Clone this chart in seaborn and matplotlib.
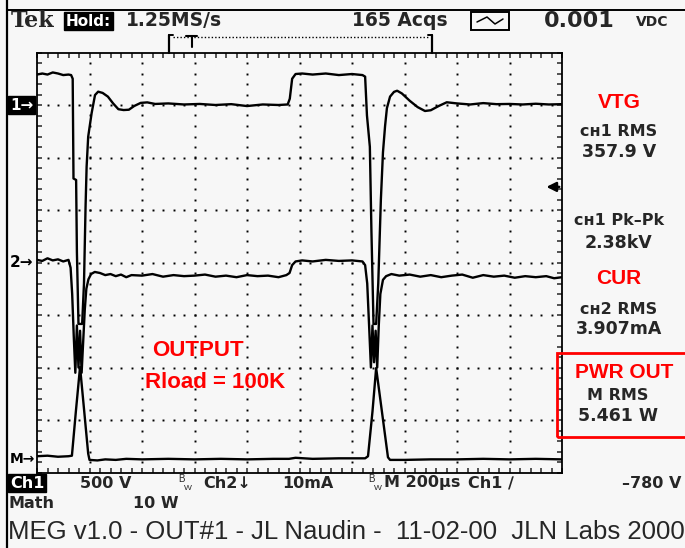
import numpy as np
import pandas as pd
import matplotlib
matplotlib.use('Agg')
import matplotlib.pyplot as plt
import matplotlib.transforms as mtransforms
from matplotlib.lines import Line2D
from matplotlib.patches import Rectangle
from matplotlib.ticker import MultipleLocator
import seaborn as sns

# Ch1 : tension (V)
ch1_t = [0, 20, 40, 60, 80, 100, 120, 130, 136, 139,
         149, 152, 158, 172, 179, 185, 189, 195, 208, 221,
         233, 250, 270, 290, 310, 330, 350, 370, 395, 420,
         450, 500, 560, 620, 680, 740, 800, 860, 920, 955,
         963, 972, 985, 1010, 1050, 1100, 1150, 1200, 1240, 1250,
         1257, 1268, 1274, 1282, 1292, 1300, 1310, 1318, 1326, 1333,
         1345, 1360, 1372, 1390, 1420, 1450, 1478, 1500, 1530, 1561,
         1600, 1650, 1700, 1750, 1800, 1850, 1900, 1950, 2000]
ch1_v = [290, 300, 290, 310, 300, 285, 290, 285, 250, -700,
         -714, -1400, -2085, -2085, -1700, -968, -588, -302, -79, 95,
         127, 115, 80, 15, -40, -48, -45, -10, 20, 25,
         10, 15, 5, 10, 0, 8, -10, 5, 0, 5,
         60, 250, 295, 300, 290, 300, 285, 295, 285, 270,
         -100, -398, -1200, -2085, -2085, -1700, -900, -450, -200, -30,
         80, 125, 136, 110, 40, -20, -57, -50, -10, 26,
         15, 5, 18, 8, 10, 5, 12, 5, 8]

# Ch2 : courant (mA)
ch2_t = [0, 20, 40, 60, 80, 100, 120, 128, 134, 140,
         146, 152, 158, 164, 170, 176, 182, 188, 196, 206,
         220, 240, 260, 280, 300, 320, 340, 360, 400, 440,
         480, 520, 560, 600, 640, 680, 720, 760, 800, 840,
         880, 920, 950, 962, 972, 985, 1010, 1050, 1100, 1150,
         1200, 1240, 1250, 1258, 1266, 1272, 1278, 1284, 1290, 1296,
         1302, 1308, 1318, 1330, 1350, 1380, 1420, 1460, 1500, 1540,
         1580, 1620, 1660, 1700, 1740, 1780, 1820, 1860, 1900, 1940,
         1970, 2000]
ch2_ma = [0.5, 0.3, 0.8, 0.4, 0.6, 0.2, 0.5, -1, -6, -14,
          -21, -12, -20, -13, -21, -15, -9, -5, -3.2, -2.2,
          -1.8, -2.0, -2.4, -2.2, -2.6, -2.3, -2.8, -2.4, -2.5, -2.2,
          -2.7, -2.4, -2.6, -2.5, -2.3, -2.7, -2.5, -2.8, -2.4, -2.6,
          -2.5, -2.8, -2.4, -2.0, -0.5, 0.2, 0.4, 0.2, 0.5, 0.3,
          0.4, 0.2, -0.5, -4, -13, -20, -12, -19, -13, -20,
          -12, -6, -3.3, -2.6, -2.2, -2.5, -2.3, -2.7, -2.4, -2.8,
          -2.5, -2.3, -2.9, -2.4, -2.7, -2.5, -2.9, -2.6, -2.8, -2.6,
          -3.0, -2.8]

# Math : puissance (W)
math_t = [0, 40, 80, 120, 133, 148, 164, 180, 195, 200,
          230, 260, 300, 340, 400, 500, 600, 700, 800, 900,
          960, 985, 1050, 1150, 1250, 1261, 1278, 1292, 1314, 1337,
          1345, 1400, 1500, 1600, 1700, 1800, 1900, 2000]
math_w = [0.5, 0.6, 0.4, 0.5, 0.6, 9, 17.5, 9, 1.0, -0.2,
          -0.3, -0.1, -0.2, 0.0, -0.1, 0.0, -0.1, 0.0, -0.1, 0.0,
          0.0, 0.2, 0.0, 0.1, 0.1, 0.5, 9, 17.3, 9, 0.3,
          -0.2, -0.2, -0.1, -0.1, 0.0, -0.1, 0.0, -0.1]

# réglages de l'oscillo
time_scale = 200                          # µs / div
ch1_scale, ch2_scale, math_scale = 500, 10, 10
ch1_pos, ch2_pos, math_pos = 7.0, 4.0, 0.26   # niveaux des marqueurs (div)
trig_level = -780                         # V

# mesures affichées à droite
meas_titles = ['VTG', 'CUR', 'PWR OUT']
meas_labels = ['ᴄʜ1 RMS', 'ᴄʜ1 Pk\u2013Pk', 'ᴄʜ2 RMS', 'M RMS']
meas_values = ['357.9 V', '2.38kV', '3.907mA', '5.461 W']

header = ['Tek', 'Hold:', '1.25MS/s', '165 Acqs', '0.001', 'VDC']
footer = 'MEG v1.0 - OUT#1 - JL Naudin -  11-02-00  JLN Labs 2000'

sns.set_style('white')
plt.rcParams['font.family'] = ['Liberation Sans', 'DejaVu Sans']

W, H = 685, 548
BG = '#f7f7f7'
RED = '#ff0000'
SCOPE = 'DejaVu Sans'   # police "écran" large et grasse


def fx(x):
    return x / W


def fy(y):
    return 1 - y / H


fig = plt.figure(figsize=(W / 100, H / 100), dpi=100, facecolor=BG)
ax = fig.add_axes([fx(37), fy(472.5), 525 / W, 420 / H])
ax.set_facecolor(BG)

# traces converties en divisions
df1 = pd.DataFrame({'t': ch1_t, 'div': ch1_pos + np.array(ch1_v) / ch1_scale})
df2 = pd.DataFrame({'t': ch2_t, 'div': ch2_pos + np.array(ch2_ma) / ch2_scale})
dfm = pd.DataFrame({'t': math_t, 'div': math_pos + np.array(math_w) / math_scale})
for d in (dfm, df2, df1):
    sns.lineplot(data=d, x='t', y='div', ax=ax, color='black', lw=1.7,
                 estimator=None, sort=False)

ax.set_xlim(0, 10 * time_scale)
ax.set_ylim(0, 8)
ax.set_xlabel('')
ax.set_ylabel('')
ax.xaxis.set_major_locator(MultipleLocator(time_scale))
ax.xaxis.set_minor_locator(MultipleLocator(time_scale / 5))
ax.yaxis.set_major_locator(MultipleLocator(1))
ax.yaxis.set_minor_locator(MultipleLocator(0.2))
ax.tick_params(which='both', direction='in', length=3.5, width=1.1,
               top=True, right=True, bottom=True, left=True,
               labelbottom=False, labelleft=False)
for s in ax.spines.values():
    s.set_linewidth(1.3)
    s.set_color('black')

# graticule en pointillés
gy = np.arange(0.2, 8, 0.2)
gx = np.arange(1, 10) * time_scale
ax.plot(np.repeat(gx, len(gy)), np.tile(gy, len(gx)), ls='none', marker='s',
        ms=1.4, mew=0, color='black')
hx = np.arange(time_scale / 5, 10 * time_scale, time_scale / 5)
hy = np.arange(1, 8)
ax.plot(np.tile(hx, len(hy)), np.repeat(hy, len(hx)), ls='none', marker='s',
        ms=1.4, mew=0, color='black')

# niveau de déclenchement
trig_div = ch1_pos + trig_level / ch1_scale
ax.annotate('', xy=(1930, trig_div), xytext=(2000, trig_div),
            arrowprops=dict(arrowstyle='-|>', color='black', lw=1.8, mutation_scale=14))

# texte rouge dans l'écran
fig.text(fx(198), fy(351), 'OUTPUT', color=RED, weight='bold', size=16,
         ha='center', va='center')
fig.text(fx(215), fy(382), 'Rload = 100K', color=RED, weight='bold', size=16,
         ha='center', va='center')

# marqueurs des voies
mk = mtransforms.blended_transform_factory(fig.transFigure, ax.transData)
ax.text(fx(10), ch1_pos, '1\u2192', transform=mk, color='white', weight='bold',
        size=11, va='center', ha='left', family=SCOPE,
        bbox=dict(boxstyle='square,pad=0.12', fc='black', ec='black'))
ax.text(fx(10), ch2_pos, '2\u2192', transform=mk, color='black', weight='bold',
        size=11, va='center', ha='left', family=SCOPE)
ax.text(fx(10), math_pos, 'M\u2192', transform=mk, color='black', weight='bold',
        size=10, va='center', ha='left', family=SCOPE)

# bords de l'écran
fig.add_artist(Line2D([fx(7), fx(7)], [0, 1], color='black', lw=1.6))
fig.add_artist(Line2D([fx(7), 1], [fy(10), fy(10)], color='black', lw=1.4))

# en-tête
hy_ = fy(21)
fig.text(fx(11), hy_, header[0], weight='bold', size=16, va='center',
         family='DejaVu Serif')
fig.text(fx(66), hy_, header[1], weight='bold', size=11, va='center', color='white',
         family=SCOPE, bbox=dict(boxstyle='square,pad=0.12', fc='black', ec='black'))
fig.text(fx(126), hy_, header[2], weight='bold', size=13.5, va='center', family=SCOPE)
fig.text(fx(352), hy_, header[3], weight='bold', size=13.5, va='center', family=SCOPE)
fig.add_artist(Rectangle((fx(471), fy(30)), fx(38), 18 / H, fill=False,
                         ec='black', lw=1.4))
fig.add_artist(Line2D([fx(477), fx(487), fx(495), fx(503)],
                      [fy(22), fy(17), fy(24), fy(19)], color='black', lw=1.1))
fig.text(fx(544), hy_, header[4], weight='bold', size=16, va='center', family=SCOPE)
fig.text(fx(636), fy(22), header[5], weight='bold', size=10, va='center', family=SCOPE)

# repère de position du déclenchement
fig.add_artist(Line2D([fx(169), fx(169)], [fy(35), fy(53)], color='black', lw=1.6))
fig.add_artist(Line2D([fx(169), fx(173)], [fy(35), fy(35)], color='black', lw=1.4))
fig.add_artist(Line2D([fx(432), fx(432)], [fy(35), fy(53)], color='black', lw=1.6))
fig.add_artist(Line2D([fx(428), fx(432)], [fy(35), fy(35)], color='black', lw=1.4))
fig.add_artist(Line2D([fx(173), fx(428)], [fy(37), fy(37)], color='black', lw=1,
                      ls=(0, (1, 1.5))))
fig.add_artist(Line2D([fx(186), fx(197)], [fy(36), fy(36)], color='black', lw=1.5))
fig.add_artist(Line2D([fx(191.5), fx(191.5)], [fy(36), fy(47)], color='black', lw=1.5))

# mesures à droite
cx = fx(619)
fig.text(cx, fy(102), meas_titles[0], color=RED, weight='bold', size=15, ha='center', va='center')
fig.text(cx, fy(131), meas_labels[0], weight='bold', size=11.5, ha='center', va='center', family=SCOPE)
fig.text(cx, fy(152), meas_values[0], weight='bold', size=12.5, ha='center', va='center', family=SCOPE)
fig.text(cx, fy(220), meas_labels[1], weight='bold', size=11.5, ha='center', va='center', family=SCOPE)
fig.text(cx, fy(243), meas_values[1], weight='bold', size=12.5, ha='center', va='center', family=SCOPE)
fig.text(cx, fy(279), meas_titles[1], color=RED, weight='bold', size=15, ha='center', va='center')
fig.text(cx, fy(309), meas_labels[2], weight='bold', size=11.5, ha='center', va='center', family=SCOPE)
fig.text(cx, fy(329), meas_values[2], weight='bold', size=12.5, ha='center', va='center', family=SCOPE)
fig.add_artist(Rectangle((fx(557), fy(437)), fx(140), 84 / H, fill=False,
                         ec=RED, lw=2))
fig.text(fx(624), fy(372), meas_titles[2], color=RED, weight='bold', size=15, ha='center', va='center')
fig.text(fx(618), fy(395), meas_labels[3], weight='bold', size=11.5, ha='center', va='center', family=SCOPE)
fig.text(fx(618), fy(416), meas_values[3], weight='bold', size=12.5, ha='center', va='center', family=SCOPE)

# ligne d'état en bas
r1 = fy(483)
fig.text(fx(10), r1, 'Ch1', weight='bold', size=11.5, va='center', color='white',
         family=SCOPE, bbox=dict(boxstyle='square,pad=0.1', fc='black', ec='black'))
fig.text(fx(80), r1, f'{ch1_scale} V', weight='bold', size=11.5, va='center', family=SCOPE)
fig.text(fx(178), fy(479), 'B', size=7, va='center')
fig.text(fx(184), fy(488), 'W', size=6, va='center')
fig.text(fx(203), r1, 'Ch2\u2193', weight='bold', size=11.5, va='center', family=SCOPE)
fig.text(fx(282), r1, f'{ch2_scale}mA', weight='bold', size=11.5, va='center', family=SCOPE)
fig.text(fx(368), fy(479), 'B', size=7, va='center')
fig.text(fx(374), fy(488), 'W', size=6, va='center')
fig.text(fx(384), r1, f'M {time_scale}µs', weight='bold', size=11.5, va='center', family=SCOPE)
fig.text(fx(468), r1, 'Ch1 \u2215', weight='bold', size=11.5, va='center', family=SCOPE)
fig.text(fx(681), r1, f'{trig_level} V'.replace('-', '\u2013'), weight='bold', size=11.5,
         va='center', ha='right', family=SCOPE)
fig.text(fx(9), fy(504), 'Math', weight='bold', size=11.5, va='center', family=SCOPE)
fig.text(fx(133), fy(504), f'{math_scale} W', weight='bold', size=11.5, va='center', family=SCOPE)
fig.text(fx(8), fy(532), footer, size=18.5, va='center')

fig.savefig('out.png', dpi=100, facecolor=BG)
